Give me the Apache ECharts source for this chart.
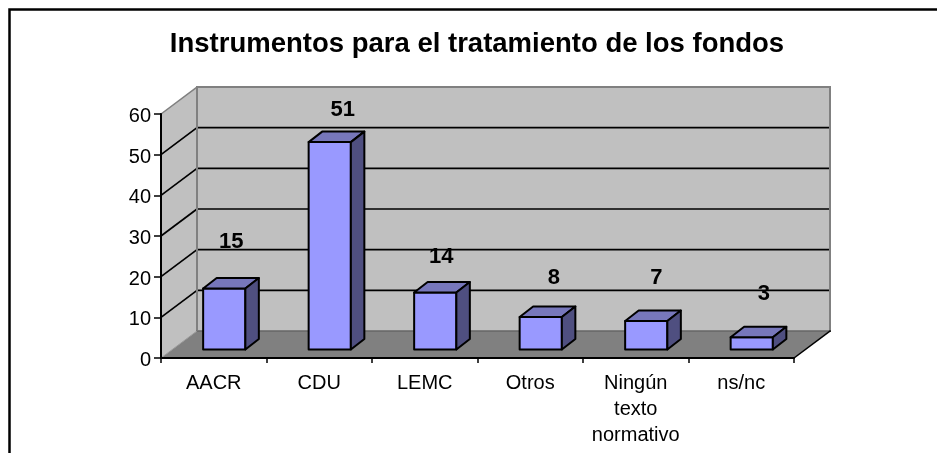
<!DOCTYPE html>
<html><head><meta charset="utf-8">
<style>html,body{margin:0;padding:0;background:#fff}#c{width:937px;height:453px}</style>
<script src="https://cdn.jsdelivr.net/npm/echarts@6/dist/echarts.min.js"></script>
</head><body><div id="c"></div>
<script>
const categories = ['AACR','CDU','LEMC','Otros','Ningún\ntexto\nnormativo','ns/nc'];
const values = [15,51,14,8,7,3];
const yTicks = [0,10,20,30,40,50,60];
const titleText = 'Instrumentos para el tratamiento de los fondos';

const FONT = '"Liberation Sans", Arial, sans-serif';
const DEPTH = [36,-27];
const BAR_FRONT = [10.5,-8.5];
const BAR_BACK = [24,-19];
const BAR_RATIO = 0.4;
const LABEL_NUDGE = [[7,-47],[13,-32],[6,-36],[13,-39],[10,-43],[12,-43]]; // hand-placed data labels, relative to the bar's front top centre

const chart = echarts.init(document.getElementById('c'),null,{renderer:'canvas'});
const add = (p,d)=>[p[0]+d[0],p[1]+d[1]];
const poly = (pts,fill,stroke,w)=>({type:'polygon',shape:{points:pts},style:{fill,stroke:stroke||null,lineWidth:w||0,lineJoin:'round'}});
const line = (a,b,stroke,w)=>({type:'line',shape:{x1:a[0],y1:a[1],x2:b[0],y2:b[1]},style:{stroke,lineWidth:w,lineCap:'square'}});

function renderWalls(params,api){
  const n = categories.length;
  const a = api.coord([0,0]), s = api.size([1,0])[0];
  const L = a[0]-s/2, R = L+s*n, B = a[1], T = api.coord([0,60])[1];
  const kids = [
    poly([[L,T],add([L,T],DEPTH),add([L,B],DEPTH),[L,B]],'#C0C0C0'),
    poly([add([L,T],DEPTH),add([R,T],DEPTH),add([R,B],DEPTH),add([L,B],DEPTH)],'#C0C0C0'),
    poly([[L,B],add([L,B],DEPTH),add([R,B],DEPTH),[R,B]],'#808080')
  ];
  yTicks.slice(1,-1).forEach(t=>{
    const y = api.coord([0,t])[1];
    kids.push(line([L,y],add([L,y],DEPTH),'#000',1.7));
    kids.push(line(add([L,y],DEPTH),add([R,y],DEPTH),'#000',1.7));
  });
  kids.push(line([L,T],add([L,T],DEPTH),'#808080',1.5));
  kids.push(line(add([L,T],DEPTH),add([R,T],DEPTH),'#808080',2));
  kids.push(line(add([L,T],DEPTH),add([L,B],DEPTH),'#808080',2));
  kids.push(line(add([R,T],DEPTH),add([R,B],DEPTH),'#808080',2));
  kids.push(line(add([L,B],DEPTH),add([R,B],DEPTH),'#666',1.5));
  kids.push(line([L,B],add([L,B],DEPTH),'#999',1));
  kids.push(line([R,B],add([R,B],DEPTH),'#000',1.5));
  return {type:'group',children:kids};
}
function renderBar(params,api){
  const i = api.value(0), v = api.value(1);
  const c0 = api.coord([i,0]), c1 = api.coord([i,v]);
  const w = api.size([1,0])[0]*BAR_RATIO;
  const l = c0[0]-w/2, r = c0[0]+w/2;
  const f = BAR_FRONT, b = BAR_BACK;
  const FL = add([l,c0[1]],f), FR = add([r,c0[1]],f), TL = add([l,c1[1]],f), TR = add([r,c1[1]],f);
  const bTL = add([l,c1[1]],b), bTR = add([r,c1[1]],b), bBR = add([r,c0[1]],b);
  const st = '#000', sw = 2;
  const lab = add(add([(l+r)/2,c1[1]],f),LABEL_NUDGE[params.dataIndex]);
  return {type:'group',children:[
    poly([TL,TR,FR,FL],'#9999FF',st,sw),
    poly([TL,bTL,bTR,TR],'#7777BB',st,sw),
    poly([TR,bTR,bBR,FR],'#4F4F80',st,sw),
    {type:'text',x:lab[0],y:lab[1],style:{text:String(v),font:'bold 22px '+FONT,fill:'#000',align:'center',verticalAlign:'middle'}}
  ]};
}
chart.setOption({
  animation:false,
  backgroundColor:'#fff',
  title:{text:titleText,left:472,top:25,textAlign:'center',textStyle:{fontFamily:FONT,fontWeight:'bold',fontSize:27.5,color:'#000'}},
  grid:{left:161,top:114,width:633,height:244,containLabel:false},
  xAxis:{type:'category',data:categories,z:5,boundaryGap:true,
    axisLine:{lineStyle:{color:'#000',width:2}},
    axisTick:{show:true,alignWithLabel:false,length:5,lineStyle:{color:'#000',width:1.5}},
    axisLabel:{interval:0,fontFamily:FONT,fontSize:20,color:'#000',margin:12,lineHeight:26,verticalAlign:'top'}},
  yAxis:{type:'value',min:0,max:60,interval:10,z:5,
    axisLine:{show:true,lineStyle:{color:'#000',width:2}},
    axisTick:{show:true,length:7,lineStyle:{color:'#000',width:1.5}},
    splitLine:{show:false},
    axisLabel:{fontFamily:FONT,fontSize:20,color:'#000',margin:10,verticalAlign:'top',lineHeight:5}},
  graphic:[{type:'polyline',z:0,shape:{points:[[9.5,453],[9.5,9.5],[937,9.5]]},style:{stroke:'#000',lineWidth:2.5,fill:null}}],
  series:[
    {type:'custom',z:1,coordinateSystem:'cartesian2d',silent:true,renderItem:renderWalls,data:[[0,0]],encode:{x:0,y:1},clip:false},
    {type:'custom',z:2,coordinateSystem:'cartesian2d',silent:true,renderItem:renderBar,data:values.map((v,i)=>[i,v]),encode:{x:0,y:1},clip:false}
  ]
});
</script></body></html>
